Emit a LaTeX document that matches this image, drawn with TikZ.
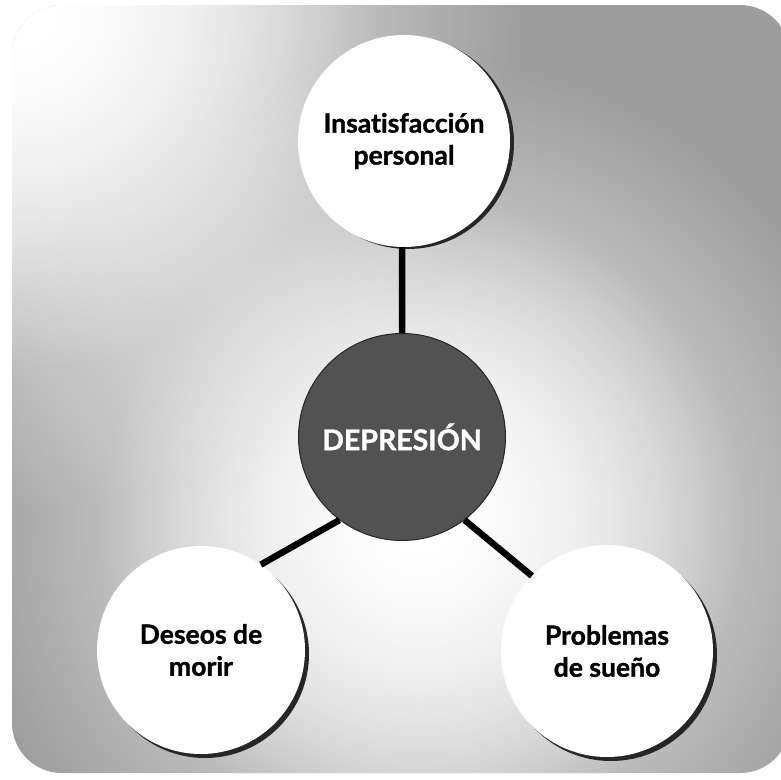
\documentclass[tikz,border=0pt]{standalone}
\usepackage{fontspec}
\setmainfont{Lato}[Ligatures=NoCommon, BoldFeatures={FakeBold=1.2}]
\usetikzlibrary{fadings}
\tikzfading[name=glow, inner color=transparent!0, outer color=transparent!100]
\tikzset{
  outercirc/.style={circle, fill=white, minimum size=#1, inner sep=0pt, align=center,
    font=\fontsize{26.5}{32}\selectfont\bfseries, text=black},
  centercirc/.style={circle, fill=black!68, draw=black!85, line width=1pt, minimum size=#1, inner sep=0pt,
    font=\fontsize{28.5}{32}\selectfont\bfseries, text=white},
  shadowcirc/.style={circle, fill=black!85, minimum size=#1, inner sep=0pt},
  link/.style={line width=6.5pt, draw=black}
}
\begin{document}
\begin{tikzpicture}[x=1pt,y=-1pt]
\useasboundingbox (0,0) rectangle (781,779);
% background
\begin{scope}
  \clip[rounded corners=50pt] (12,5) rectangle (790,773);
  \fill[black!38] (0,0) rectangle (790,779);
  \fill[white, path fading=glow] (420,520) circle (460);
  \fill[white, path fading=glow] (420,520) circle (320);
  \fill[white, path fading=glow] (20,10) circle (500);
  \fill[white, path fading=glow] (20,10) circle (360);
\end{scope}
% shadows of the outer circles
\node[shadowcirc=212pt] at (408,143) {};
\node[shadowcirc=208pt] at (205,654) {};
\node[shadowcirc=212pt] at (611,655) {};
% circles
\node[outercirc=212pt] (top) at (404,141) {Insatisfacción\\personal};
\node[outercirc=208pt] (bl) at (201,650) {Deseos de\\morir};
\node[outercirc=212pt] (br) at (607,651) {Problemas\\de sueño};
\node[centercirc=207pt] (dep) at (402,437) {DEPRESIÓN};
% connectors
\draw[link] (dep.90) -- (top.-91);
\draw[link] (dep.-127) -- (bl.55);
\draw[link] (dep.-53) -- (br.135);
\end{tikzpicture}
\end{document}
